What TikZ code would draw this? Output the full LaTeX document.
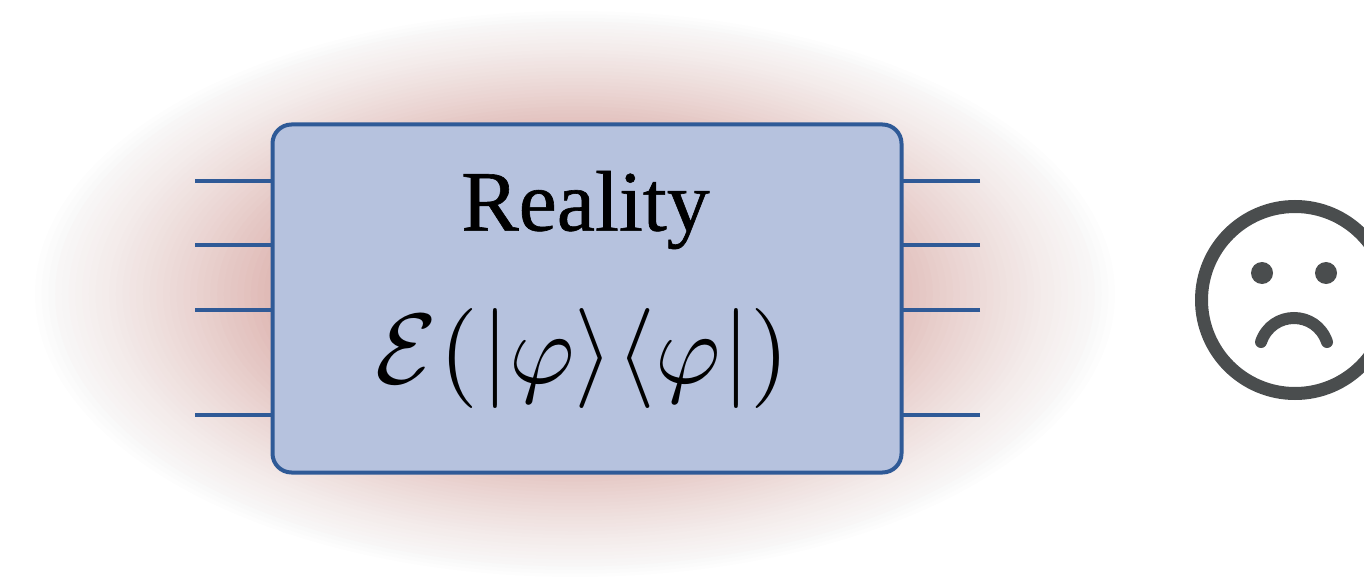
\documentclass[tikz,border=0pt]{standalone}
\usepackage{fontspec}
\setmainfont{Liberation Serif}
\newfontfamily\titlefont[FakeBold=0.7]{Liberation Serif}
\definecolor{boxfill}{RGB}{182,194,222}
\definecolor{boxline}{RGB}{47,90,151}
\definecolor{haloin}{RGB}{223,184,180}
\definecolor{haloout}{RGB}{249,249,249}
\definecolor{facegray}{RGB}{74,77,78}
\tikzset{
  wire/.style={draw=boxline,line width=3.6pt},
  realitybox/.style={draw=boxline,fill=boxfill,line width=4pt,rounded corners=19pt,
    minimum width=629pt,minimum height=348pt,outer sep=0pt,inner sep=0pt},
  faceline/.style={draw=facegray,line width=13pt},
  eye/.style={circle,fill=facegray,minimum size=22pt,inner sep=0pt,outer sep=0pt},
}
\begin{document}
\begin{tikzpicture}[x=1pt,y=-1pt]
\useasboundingbox (0,0) rectangle (1364,577);
\clip (0,0) rectangle (1364,577);
% halo
\foreach \i in {0,...,2}{
  \pgfmathsetmacro{\t}{1-\i*0.0125}
  \pgfmathsetmacro{\q}{33+\i*33}
  \fill[haloout!\q!white] (575,294) ellipse [x radius={540*\t},y radius={283*\t}];
}
\foreach \i in {3,...,40}{
  \pgfmathsetmacro{\t}{1-\i*0.0125}
  \pgfmathsetmacro{\p}{min(100,100*pow((1-\t)/0.44,1.25))}
  \fill[haloin!\p!haloout] (575,294) ellipse [x radius={540*\t},y radius={283*\t}];
}
% box
\node[realitybox] (box) at (587,298.5) {};
\node[font=\titlefont\fontsize{86}{86}\selectfont,inner sep=0pt] (title) at (585.5,210) {Reality};
\node[inner sep=0pt] (formula) at (582.5,358) {\scalebox{10}{$\mathcal{E}\mkern0.5mu(\mkern0.5mu|\varphi\rangle\mkern0.5mu\langle\varphi\mkern0.4mu|)$}};
% wires
\foreach \n/\y in {a/181,b/245,c/310,d/415}{
  \coordinate (l\n) at (195,\y);
  \coordinate (r\n) at (980,\y);
  \draw[wire] (l\n) -- (l\n -| box.west);
  \draw[wire] (r\n) -- (r\n -| box.east);
}
% face
\node[circle,faceline,minimum size=187pt,inner sep=0pt] (face) at (1295,300) {};
\node[eye] (eyeL) at (1262,273) {};
\node[eye] (eyeR) at (1326,273) {};
\coordinate (mouthL) at (1261,342);
\coordinate (mouthR) at (1327,342);
\draw[draw=facegray,line width=12pt,line cap=round] (mouthL) .. controls (1272,310) and (1316,310) .. (mouthR);
\end{tikzpicture}
\end{document}
